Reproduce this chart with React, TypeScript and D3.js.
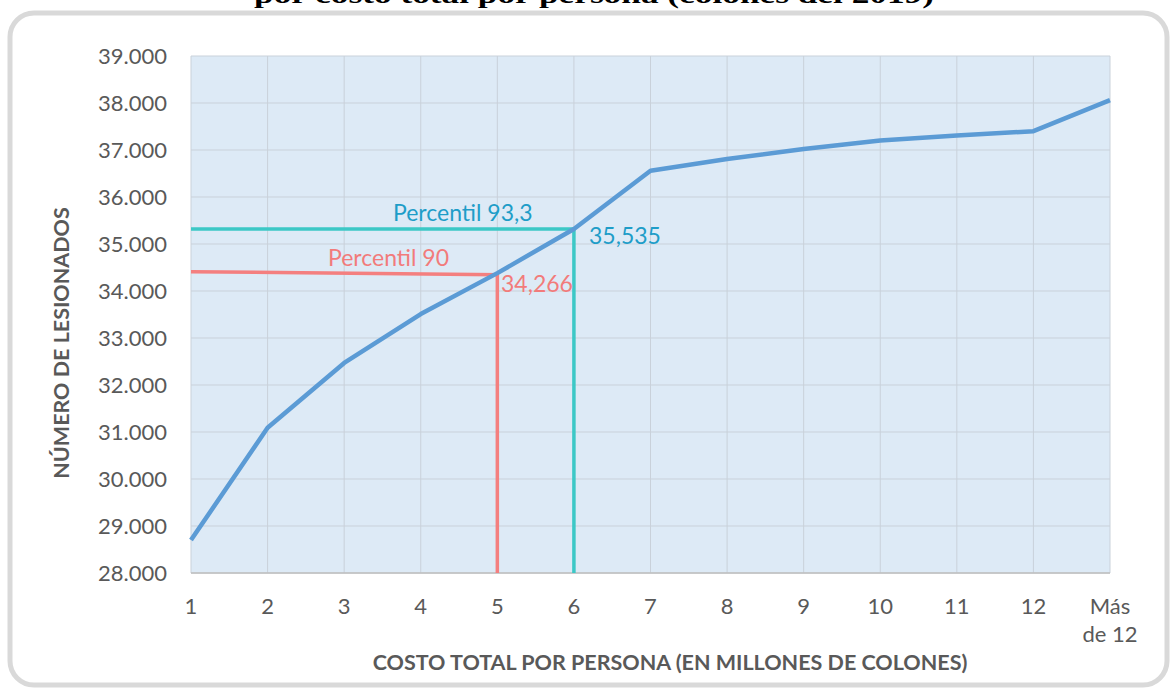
import React from "react";
import * as d3 from "d3";

const categories: string[] = ["1", "2", "3", "4", "5", "6", "7", "8", "9", "10", "11", "12", "Más de 12"];
const lesionados: number[] = [28700, 31090, 32470, 33510, 34380, 35320, 36560, 36810, 37020, 37200, 37310, 37400, 38060];
const yTicks: number[] = [28000, 29000, 30000, 31000, 32000, 33000, 34000, 35000, 36000, 37000, 38000, 39000];
const p90 = { category: "5", label: "Percentil 90", value: "34,266" };
const p933 = { category: "6", label: "Percentil 93,3", value: "35,535" };

const W = 1171;
const H = 689;
const left = 191;
const right = 1110;
const top = 56;
const bottom = 573;

export default function App() {
  const x = d3.scalePoint<string>().domain(categories).range([left, right]);
  const y = d3.scaleLinear().domain([28000, 39000]).range([bottom, top]);
  const line = d3
    .line<number>()
    .x((_, i) => x(categories[i]) as number)
    .y((d) => y(d));
  const fmt = (v: number) => d3.format(",")(v).replace(/,/g, ".");
  const font = "Lato, 'Open Sans', sans-serif";

  const idx90 = categories.indexOf(p90.category);
  const idx93 = categories.indexOf(p933.category);
  const x90 = x(p90.category) as number;
  const y90 = y(lesionados[idx90]);
  const x93 = x(p933.category) as number;
  const y93 = y(lesionados[idx93]);

  return (
    <svg width={W} height={H} style={{ position: "absolute", left: 0, top: 0, background: "#fff" }}>
      <rect x={10} y={13} width={1157} height={672} rx={24} fill="#fff" stroke="#D9D9D9" strokeWidth={5} />
      <text x={594} y={3} textAnchor="middle" fontFamily="'Liberation Serif', serif" fontWeight="bold" fontSize={26} fill="#000" textLength={680} lengthAdjust="spacingAndGlyphs">
        por costo total por persona (colones del 2019)
      </text>
      <rect x={left} y={top} width={right - left} height={bottom - top} fill="#DDEAF6" />
      {yTicks.map((t) => (
        <line key={"h" + t} x1={left} x2={right} y1={y(t)} y2={y(t)} stroke="#C9D1DA" strokeWidth={1} />
      ))}
      {categories.map((c) => (
        <line key={"v" + c} x1={x(c)} x2={x(c)} y1={top} y2={bottom} stroke="#C9D1DA" strokeWidth={1} />
      ))}
      <line x1={left} x2={right} y1={bottom} y2={bottom} stroke="#BFBFBF" strokeWidth={1.5} />
      {yTicks.map((t) => (
        <text key={"yt" + t} x={167} y={y(t)} dy="0.35em" textAnchor="end" fontFamily={font} fontSize={22} fill="#595959">
          {fmt(t)}
        </text>
      ))}
      {categories.map((c) => {
        const parts = c === "Más de 12" ? ["Más", "de 12"] : [c];
        return parts.map((p, i) => (
          <text key={"xt" + c + i} x={x(c)} y={614 + i * 28} textAnchor="middle" fontFamily={font} fontSize={22} fill="#595959">
            {p}
          </text>
        ));
      })}
      <text x={670} y={670} textAnchor="middle" fontFamily={font} fontWeight="bold" fontSize={21.5} fill="#595959">
        COSTO TOTAL POR PERSONA (EN MILLONES DE COLONES)
      </text>
      <text transform={`translate(69,343) rotate(-90)`} textAnchor="middle" fontFamily={font} fontWeight="bold" fontSize={21.5} fill="#595959">
        NÚMERO DE LESIONADOS
      </text>

      <path d={`M${left},${y90 - 1.5}L${x90},${y90 + 1.5}L${x90},${bottom}`} fill="none" stroke="#F47F7F" strokeWidth={3.5} />
      <path d={`M${left},${y93}L${x93},${y93}L${x93},${bottom}`} fill="none" stroke="#3CC8C6" strokeWidth={3.5} />

      <path d={line(lesionados) || ""} fill="none" stroke="#5B9BD5" strokeWidth={4.5} strokeLinejoin="round" />

      <text x={393} y={221} fontFamily={font} fontSize={23} fill="#1E9DC8">{p933.label}</text>
      <text x={589} y={244} fontFamily={font} fontSize={23} fill="#1E9DC8">{p933.value}</text>
      <text x={328} y={266} fontFamily={font} fontSize={23} fill="#F27B7B">{p90.label}</text>
      <text x={501} y={292} fontFamily={font} fontSize={23} fill="#F27B7B">{p90.value}</text>
    </svg>
  );
}
